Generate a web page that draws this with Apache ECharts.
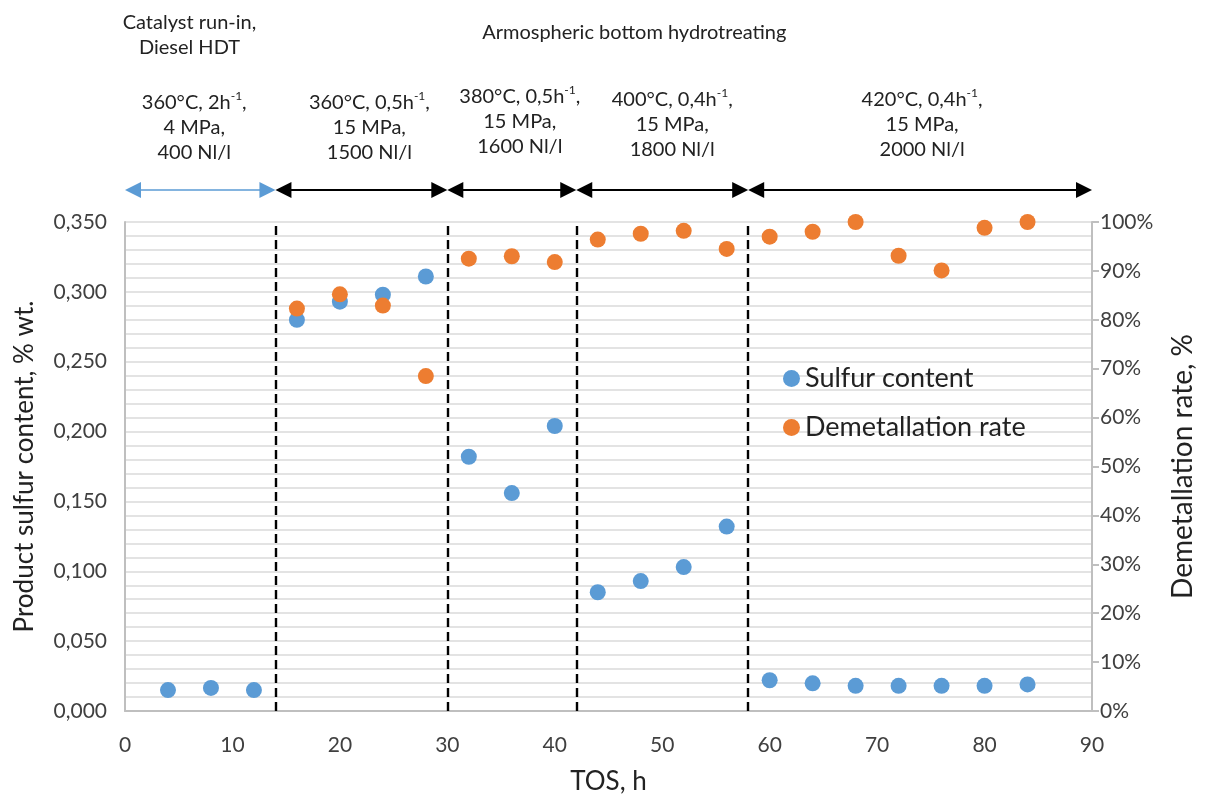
<!DOCTYPE html>
<html><head><meta charset="utf-8">
<script src="https://cdn.jsdelivr.net/npm/echarts@6/dist/echarts.min.js"></script>
<style>html,body{margin:0;padding:0;background:#fff}#c{width:1205px;height:800px}</style>
</head><body><div id="c"></div>
<script>
const tos = [4,8,12,16,20,24,28,32,36,40,44,48,52,56,60,64,68,72,76,80,84];
const sulfur = [0.015,0.0165,0.015,0.280,0.293,0.298,0.311,0.182,0.156,0.204,0.085,0.093,0.103,0.132,0.022,0.0198,0.018,0.018,0.018,0.018,0.019];
const demet = [null,null,null,82.3,85.2,82.9,68.5,92.5,93.0,91.8,96.4,97.6,98.2,94.5,97.0,98.0,100,93.1,90.1,98.8,100];
const boundaries = [14,30,42,58];
const segments = [[0,14],[14,30],[30,42],[42,58],[58,90]];
const condLabels = [
  ['360°C, 2h{s|-1},','4 MPa,','400 Nl/l'],
  ['360°C, 0,5h{s|-1},','15 MPa,','1500 Nl/l'],
  ['380°C, 0,5h{s|-1},','15 MPa,','1600 Nl/l'],
  ['400°C, 0,4h{s|-1},','15 MPa,','1800 Nl/l'],
  ['420°C, 0,4h{s|-1},','15 MPa,','2000 Nl/l']
];
const headerRunIn = 'Catalyst run-in,\nDiesel HDT';
const headerMain = 'Armospheric bottom hydrotreating';

const FONT = 'Lato';
const chart = echarts.init(document.getElementById('c'));
const gridLine = '#e3e3e3';
const axisGray = '#bfbfbf';
const txt = '#404040';

chart.setOption({
  animation:false,
  textStyle:{fontFamily:FONT},
  grid:{left:125,right:102,top:222,bottom:83},
  legend:{
    orient:'vertical', left:778, top:360, itemGap:22, itemWidth:17, itemHeight:17,
    icon:'circle', textStyle:{fontSize:27,color:'#222',fontFamily:FONT},
    data:['Sulfur content','Demetallation rate']
  },
  xAxis:{
    type:'value', min:0, max:90, interval:10,
    name:'TOS, h', nameLocation:'middle', nameGap:58,
    nameTextStyle:{fontSize:26,color:'#222'},
    axisLine:{lineStyle:{color:axisGray,width:2}}, axisTick:{show:false},
    axisLabel:{fontSize:21,color:txt,margin:24},
    splitLine:{show:false}
  },
  yAxis:[{
    type:'value', min:0, max:0.35, interval:0.05,
    name:'Product sulfur content, % wt.', nameLocation:'middle', nameGap:87, nameRotate:90,
    nameTextStyle:{fontSize:26,color:'#222'},
    axisLine:{show:true,lineStyle:{color:axisGray,width:2}}, axisTick:{show:false},
    axisLabel:{fontSize:21,color:txt,margin:18,formatter:v=>v.toFixed(3).replace('.',',')},
    splitLine:{show:true,lineStyle:{color:gridLine,width:2}},
    minorTick:{show:false,splitNumber:5},
    minorSplitLine:{show:true,lineStyle:{color:gridLine,width:2}}
  },{
    type:'value', min:0, max:100, interval:10, position:'right',
    name:'Demetallation rate, %', nameLocation:'middle', nameGap:77, nameRotate:90,
    nameTextStyle:{fontSize:28,color:'#222'},
    axisLine:{show:true,lineStyle:{color:axisGray,width:2}},
    axisTick:{show:true,length:7,lineStyle:{color:axisGray,width:2}},
    axisLabel:{fontSize:21,color:txt,margin:8,formatter:'{value}%'},
    splitLine:{show:false}
  }],
  series:[{
    name:'Sulfur content', type:'scatter', symbolSize:16, yAxisIndex:0,
    itemStyle:{color:'#5b9bd5',opacity:1},
    data:tos.map((x,i)=>[x,sulfur[i]]),
    markLine:{silent:true,symbol:'none',label:{show:false},
      lineStyle:{color:'#000',type:[9,5],width:2.4},
      data:boundaries.map(b=>({xAxis:b}))},
    z:3
  },{
    name:'Demetallation rate', type:'scatter', symbolSize:16, yAxisIndex:1,
    itemStyle:{color:'#ed7d31',opacity:1},
    data:tos.map((x,i)=>[x,demet[i]]).filter(d=>d[1]!=null),
    z:4
  }]
});

function px(x){return chart.convertToPixel({xAxisIndex:0},x);}
const g = [];
const arrowY = 190, hw = 16, hh = 8;
function head(tipX, dir, color){
  g.push({type:'polygon',shape:{points:[[tipX,arrowY],[tipX-dir*hw,arrowY-hh],[tipX-dir*hw,arrowY+hh]]},style:{fill:color},z:10});
}
segments.forEach((s,i)=>{
  const a = px(s[0]), b = px(s[1]);
  const color = i===0 ? '#5b9bd5' : '#000';
  g.push({type:'line',shape:{x1:a+4,y1:arrowY,x2:b-4,y2:arrowY},style:{stroke:color,lineWidth:i===0?1.6:2},z:9});
  head(a,-1,color); head(b,1,color);
  const cx = (px(s[0])+px(s[1]))/2;
  const off = [-6,8,8,10,2][i];
  g.push({type:'text',x:cx+off,y:[90,90,84,87,87][i],style:{
    text:condLabels[i].join('\n'), fill:'#222', font:'20px '+FONT, align:'center', verticalAlign:'top', lineHeight:25,
    rich:{s:{fontSize:12,fontFamily:FONT,fill:'#222',verticalAlign:'top',lineHeight:16}}
  },z:10});
});
g.push({type:'text',x:px(6),y:10,style:{text:headerRunIn,fill:'#222',font:'20px '+FONT,align:'center',verticalAlign:'top',lineHeight:25},z:10});
g.push({type:'text',x:px(47.4),y:23,style:{text:headerMain,fill:'#222',font:'20px '+FONT,align:'center',verticalAlign:'top'},z:10});
chart.setOption({graphic:g});
</script></body></html>
